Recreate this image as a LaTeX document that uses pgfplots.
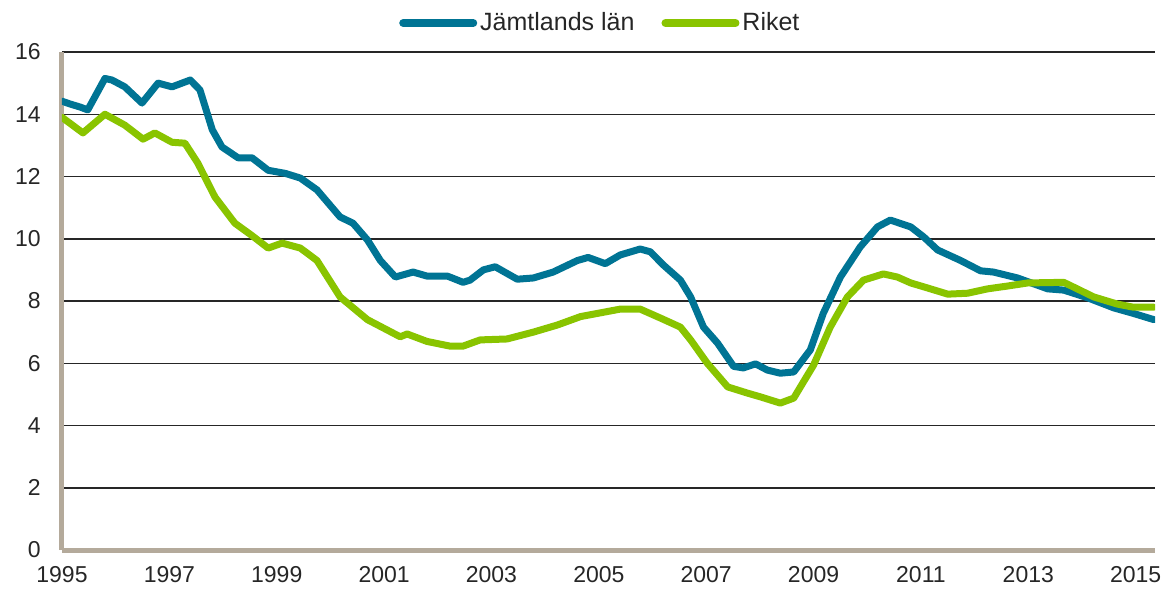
\documentclass[border=0pt]{standalone}
\usepackage{fontspec}
\setmainfont{Liberation Sans}
\usepackage{pgfplots}
\pgfplotsset{compat=1.18}
\definecolor{jblue}{RGB}{0,116,148}
\definecolor{rgreen}{RGB}{137,196,0}
\definecolor{axgray}{RGB}{180,170,155}
\begin{document}
\fontsize{11}{13}\selectfont
\begin{tikzpicture}
\path[use as bounding box] (-31pt,-20pt) rectangle (553.5pt,275pt);
\begin{axis}[
  scale only axis, width=546.5pt, height=249pt,
  xmin=1995, xmax=2015.36, ymin=0, ymax=16,
  xtick={1995,1997,...,2015}, ytick={0,2,...,16},
  /pgf/number format/1000 sep={},
  /pgf/number format/assume math mode=true,
  axis x line*=bottom, axis y line*=left,
  axis line style={draw=axgray, line width=2.5pt},
  major tick length=0pt,
  ymajorgrids, major grid style={black!85, line width=0.75pt},
  tick label style={font=\fontsize{11.5}{13}\selectfont, text=black!85},
  yticklabel style={anchor=east, inner sep=0pt, xshift=-10.5pt},
  xticklabel style={anchor=north, inner sep=0pt, yshift=-8pt},
  legend columns=2,
  legend style={draw=none, fill=none, at={(0.493,1)}, anchor=center, yshift=14.5pt,
    font=\fontsize{12.5}{14}\selectfont, inner sep=0pt,
    /tikz/every even column/.append style={column sep=12pt},
    nodes={inner sep=1.5pt, text=black!85}},
  legend image code/.code={\draw[#1, line width=4pt, line cap=round] (0pt,0pt) -- (35pt,0pt);},
  every axis plot/.append style={line width=3.5pt, line join=round, line cap=round},
]
\addplot[jblue] coordinates {
(1995.00,14.42) (1995.15,14.33) (1995.34,14.23) (1995.48,14.14) (1995.80,15.15)
(1995.93,15.10) (1996.17,14.88) (1996.49,14.36) (1996.79,15.00) (1997.05,14.88)
(1997.39,15.10) (1997.57,14.78) (1997.80,13.50) (1997.98,12.95) (1998.28,12.60)
(1998.54,12.60) (1998.84,12.20) (1999.16,12.10) (1999.44,11.95) (1999.75,11.57)
(2000.18,10.70) (2000.42,10.50) (2000.69,9.96) (2000.93,9.30) (2001.21,8.77)
(2001.54,8.93) (2001.80,8.80) (2002.18,8.80) (2002.47,8.60) (2002.60,8.67)
(2002.85,9.00) (2003.07,9.10) (2003.48,8.70) (2003.78,8.74) (2004.15,8.93)
(2004.60,9.30) (2004.80,9.40) (2005.12,9.20) (2005.40,9.48) (2005.77,9.67)
(2005.96,9.58) (2006.20,9.16) (2006.52,8.67) (2006.71,8.13) (2006.95,7.16)
(2007.21,6.65) (2007.51,5.90) (2007.69,5.85) (2007.92,5.98) (2008.14,5.78)
(2008.38,5.68) (2008.63,5.72) (2008.94,6.43) (2009.18,7.60) (2009.50,8.77)
(2009.87,9.74) (2010.19,10.38) (2010.43,10.60) (2010.81,10.38) (2011.05,10.06)
(2011.31,9.64) (2011.74,9.30) (2012.11,8.97) (2012.35,8.93) (2012.80,8.74)
(2013.36,8.39) (2013.66,8.35) (2014.11,8.10) (2014.59,7.78) (2014.96,7.60)
(2015.34,7.40)
};
\addlegendentry{Jämtlands län}
\addplot[rgreen] coordinates {
(1995.00,13.90) (1995.39,13.40) (1995.80,14.00) (1996.17,13.65) (1996.51,13.20)
(1996.73,13.40) (1997.05,13.10) (1997.29,13.07) (1997.53,12.43) (1997.85,11.34)
(1998.22,10.50) (1998.54,10.10) (1998.84,9.70) (1999.10,9.86) (1999.44,9.70)
(1999.75,9.30) (2000.18,8.13) (2000.69,7.40) (2001.30,6.85) (2001.43,6.94)
(2001.80,6.70) (2002.23,6.55) (2002.47,6.55) (2002.79,6.75) (2003.29,6.78)
(2003.78,7.00) (2004.23,7.23) (2004.66,7.50) (2004.97,7.60) (2005.40,7.74)
(2005.77,7.74) (2006.15,7.45) (2006.52,7.16) (2006.71,6.75) (2007.02,6.00)
(2007.40,5.24) (2007.77,5.04) (2008.01,4.92) (2008.38,4.72) (2008.63,4.88)
(2009.00,5.94) (2009.31,7.16) (2009.63,8.13) (2009.93,8.67) (2010.30,8.87)
(2010.56,8.77) (2010.81,8.58) (2011.12,8.42) (2011.50,8.22) (2011.87,8.25)
(2012.24,8.39) (2012.61,8.48) (2012.99,8.58) (2013.66,8.60) (2013.84,8.45)
(2014.22,8.13) (2014.66,7.90) (2014.96,7.80) (2015.34,7.80)
};
\addlegendentry{Riket}
\node[anchor=base west, inner sep=0pt, text=black!85, font=\fontsize{12.5}{14}\selectfont] at (rel axis cs:0,1) [xshift=0.5pt, yshift=5.5pt] {Procent};
\end{axis}
\end{tikzpicture}
\end{document}
